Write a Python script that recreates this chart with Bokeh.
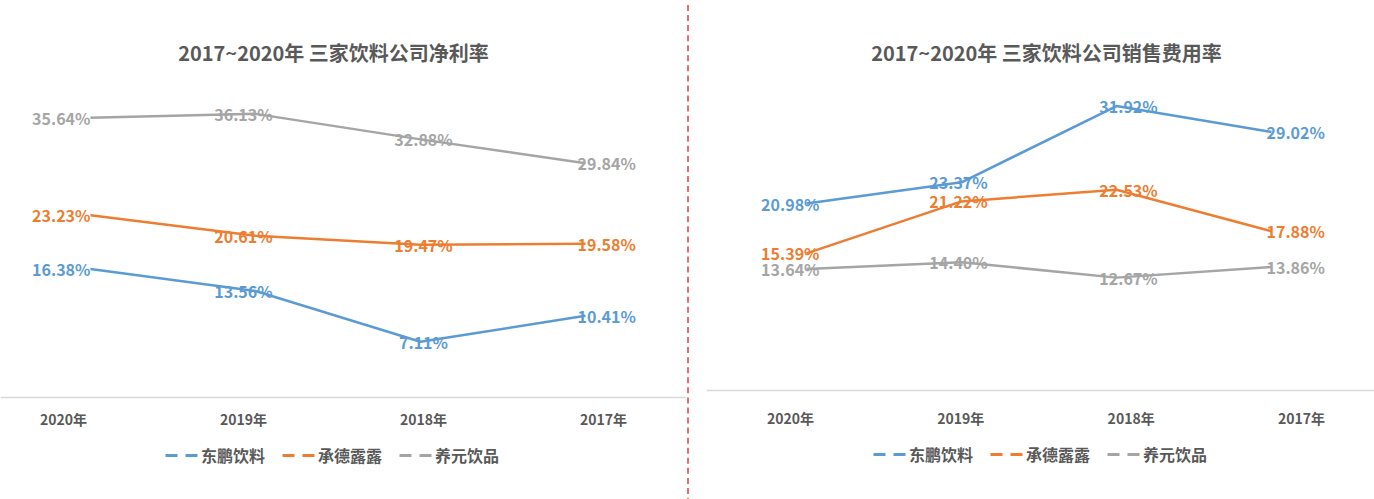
from bokeh.plotting import figure
from bokeh.models import (ColumnDataSource, Range1d, Legend, LegendItem, Div, Span)
from bokeh.layouts import row
from bokeh.core.properties import value, field
from bokeh.embed import file_html
from bokeh.resources import INLINE

# ---------------- data ----------------
YEARS = ["2020年", "2019年", "2018年", "2017年"]
SERIES = ["东鹏饮料", "承德露露", "养元饮品"]
TITLE_NET = "2017~2020年 三家饮料公司净利率"
TITLE_SALES = "2017~2020年 三家饮料公司销售费用率"

NET_DONGPENG = [16.38, 13.56, 7.11, 10.41]
NET_CHENGDE = [23.23, 20.61, 19.47, 19.58]
NET_YANGYUAN = [35.64, 36.13, 32.88, 29.84]

SALES_DONGPENG = [20.98, 23.37, 31.92, 29.02]
SALES_CHENGDE = [15.39, 21.22, 22.53, 17.88]
SALES_YANGYUAN = [13.64, 14.40, 12.67, 13.86]

# ---------------- style / layout ----------------
COLORS = ["#5B9BD5", "#ED7D31", "#A5A5A5"]
FONT = "Noto Sans CJK SC"
TEXT_DARK = "#595959"
AXIS_GREY = "#D9D9D9"
DIVIDER = "#E46D6D"

LEFT_CFG = dict(
    width=686, height=499, border_left=0,
    x_range=(-0.545, 3.612), cat_range=(-0.35, 3.461), y_range=(-12.99, 50.57),
    title_px=(333, 52), tick_py=418, legend_pos=(165, 32),
    label_align=["right", "center", "center", "left"],
    label_dx=[0, -12, 3, -8],
)
RIGHT_CFG = dict(
    width=684, height=499, border_left=10,
    x_range=(-0.645, 3.703), cat_range=(-0.493, 3.464), y_range=(-12.23, 43.77),
    title_px=(340, 52), tick_py=417, legend_pos=(167, 33),
    label_align=["right", "center", "center", "left"],
    label_dx=[13, -3, 12, -5],
)


def make_chart(title, series_values, cfg):
    fw = cfg["width"] - cfg["border_left"]
    fh = cfg["height"]
    x0, x1 = cfg["x_range"]
    y0, y1 = cfg["y_range"]

    def px_to_x(px):
        return x0 + px * (x1 - x0) / fw

    def py_to_y(py):
        return y1 - py * (y1 - y0) / fh

    p = figure(width=cfg["width"], height=cfg["height"], title=None,
               x_range=Range1d(x0, x1), y_range=Range1d(y0, y1),
               x_axis_location=None, y_axis_location=None,
               toolbar_location=None, output_backend="svg",
               min_border_left=cfg["border_left"], min_border_right=0,
               min_border_top=0, min_border_bottom=0)
    p.outline_line_color = None
    p.grid.visible = False
    p.extra_x_ranges = {"cat": Range1d(*cfg["cat_range"])}

    # category axis line and labels
    p.add_layout(Span(location=0, dimension="width", line_color=AXIS_GREY,
                      line_width=1.5))
    xs = list(range(len(YEARS)))
    tick_src = ColumnDataSource(dict(x=xs, y=[py_to_y(cfg["tick_py"])] * len(YEARS),
                                     text=YEARS))
    p.text("x", "y", text="text", source=tick_src, x_range_name="cat",
           text_align="center", text_baseline="middle", text_color=TEXT_DARK,
           text_font=value(FONT), text_font_size="14px", text_font_style="bold")

    # title
    tx, ty = cfg["title_px"]
    p.text(x=[px_to_x(tx)], y=[py_to_y(ty)], text=[title],
           text_align="center", text_baseline="middle", text_color=TEXT_DARK,
           text_font=value(FONT), text_font_size="20px", text_font_style="bold")

    items = []
    for name, vals, color in zip(SERIES, series_values, COLORS):
        src = ColumnDataSource(dict(
            x=xs, y=vals,
            label=[f"{v:.2f}%" for v in vals],
            align=cfg["label_align"], dx=cfg["label_dx"],
        ))
        p.line("x", "y", source=src, line_color=color, line_width=2.5,
               line_join="round")
        p.text("x", "y", text="label", source=src,
               text_align=field("align"), x_offset="dx",
               text_baseline="middle", text_color=color,
               text_font=value(FONT), text_font_size="16px",
               text_font_style="bold")
        dummy = p.line(x=[0, 0], y=[y0 - 50, y0 - 50], line_color=color,
                       line_width=3, line_dash="12 8")
        items.append(LegendItem(label=name, renderers=[dummy]))

    legend = Legend(items=items, orientation="horizontal",
                    location=cfg["legend_pos"],
                    glyph_width=34, glyph_height=18, label_standoff=2,
                    spacing=17, padding=0, margin=0,
                    border_line_color=None, background_fill_alpha=0,
                    label_text_font=FONT, label_text_font_size="16px",
                    label_text_font_style="bold", label_text_color=TEXT_DARK)
    p.add_layout(legend, "center")
    return p


left = make_chart(TITLE_NET, [NET_DONGPENG, NET_CHENGDE, NET_YANGYUAN], LEFT_CFG)
right = make_chart(TITLE_SALES, [SALES_DONGPENG, SALES_CHENGDE, SALES_YANGYUAN], RIGHT_CFG)

divider = Div(text="", width=4, height=499,
              styles={"border-left": "2px dashed " + DIVIDER,
                      "margin-left": "1px", "box-sizing": "border-box"})

layout = row(left, divider, right, spacing=0)
open("out.html", "w").write(file_html(layout, INLINE))
